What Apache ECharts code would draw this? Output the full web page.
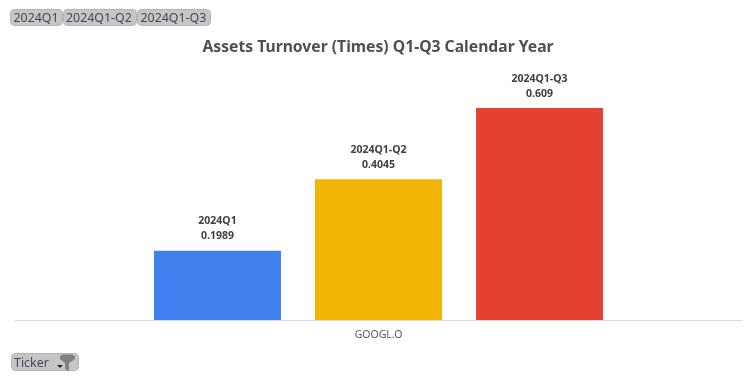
<!DOCTYPE html>
<html>
<head>
<meta charset="utf-8">
<style>
  html, body { margin: 0; padding: 0; background: #fff; }
  #main { width: 756px; height: 378px; }
</style>
<script src="https://cdn.jsdelivr.net/npm/echarts@6/dist/echarts.min.js"></script>
</head>
<body>
<div id="main"></div>
<script>
const tickers = ["GOOGL.O"];
const periods = ["2024Q1", "2024Q1-Q2", "2024Q1-Q3"];
const q1Values = [0.1989];
const q1q2Values = [0.4045];
const q1q3Values = [0.609];
const barColors = ["#4080ee", "#f3b505", "#e44133"];

const font = "Noto Sans";

function slicerButton(x, y, w, h, label, pad) {
  return [
    {
      type: "rect",
      shape: { x: x, y: y, width: w, height: h, r: 4 },
      style: { fill: "#c6c6c6", stroke: "#b4b4b4", lineWidth: 1 }
    },
    {
      type: "text",
      x: x + pad,
      y: y + h / 2 + 1,
      style: {
        text: label,
        font: "12.4px '" + font + "'",
        fill: "#44475a",
        textVerticalAlign: "middle"
      }
    }
  ];
}

function makeSeries(name, values, color) {
  return {
    name: name,
    type: "bar",
    data: values,
    barWidth: 127,
    barGap: "26.8%",
    itemStyle: { color: color },
    label: {
      show: true,
      position: "top",
      distance: 7,
      formatter: p => p.seriesName + "\n" + p.value,
      fontFamily: font,
      fontSize: 10.5,
      fontWeight: "bold",
      lineHeight: 15,
      color: "#404040"
    }
  };
}

const chart = echarts.init(document.getElementById("main"));
chart.setOption({
  animation: false,
  title: {
    text: "Assets Turnover (Times) Q1-Q3 Calendar Year",
    left: 373,
    top: 35,
    textAlign: "center",
    textStyle: {
      fontFamily: font,
      fontSize: 15.7,
      fontWeight: "bold",
      color: "#505050"
    }
  },
  grid: { left: 15, top: 59, width: 727, height: 261 },
  xAxis: {
    type: "category",
    data: tickers,
    axisLine: { lineStyle: { color: "#d9d9d9" } },
    axisTick: { show: false },
    axisLabel: { fontFamily: font, fontSize: 10.5, color: "#595959", margin: 10 }
  },
  yAxis: { type: "value", min: 0, max: 0.75, show: false, splitLine: { show: false } },
  series: [
    makeSeries(periods[0], q1Values, barColors[0]),
    makeSeries(periods[1], q1q2Values, barColors[1]),
    makeSeries(periods[2], q1q3Values, barColors[2])
  ],
  graphic: [
    ...slicerButton(10.5, 9.5, 52, 16, periods[0], 3),
    ...slicerButton(63.5, 9.5, 73, 16, periods[1], 2.5),
    ...slicerButton(137.5, 9.5, 73, 16, periods[2], 3),
    ...slicerButton(11.5, 353.5, 67, 17, "Ticker", 2.5),
    // dropdown arrow and funnel on the Ticker button
    {
      type: "polygon",
      shape: { points: [[57, 365], [63, 365], [60, 368]] },
      style: { fill: "#222" }
    },
    {
      type: "polygon",
      shape: { points: [[60, 356], [63, 354.5], [72, 354.5], [75, 356], [75, 359], [69, 363], [69, 371], [65, 369], [65, 363], [60, 359]] },
      style: { fill: "#808080" }
    }
  ]
});
</script>
</body>
</html>
